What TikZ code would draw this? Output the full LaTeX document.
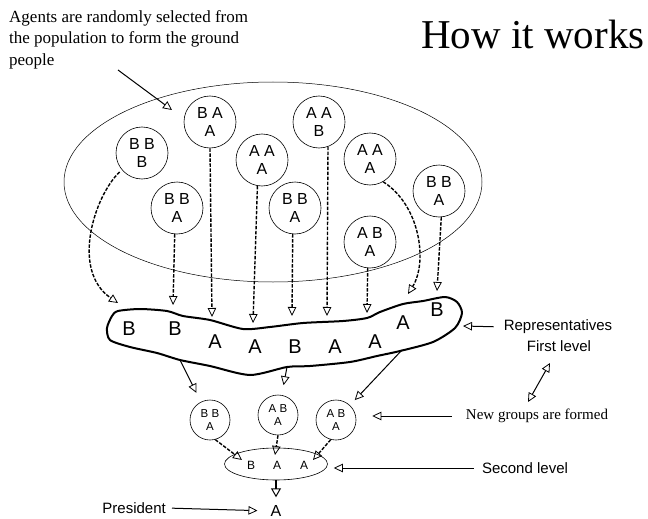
\documentclass[tikz,border=0pt]{standalone}
\usepackage{fontspec}
\setmainfont{Liberation Serif}
\setsansfont{Liberation Sans}
\usetikzlibrary{arrows.meta,shapes.geometric}
\begin{document}
\begin{tikzpicture}[x=1pt,y=-1pt,
  ot/.tip={Triangle[open,length=9pt,width=8.5pt,line width=0.8pt]},
  agent/.style={draw, circle, line width=0.6pt, minimum size=52pt, inner sep=0pt, align=center, font=\sffamily\fontsize{16}{18.5}\selectfont},
  grpc/.style={draw, circle, line width=0.6pt, minimum size=40pt, inner sep=0pt, align=center, font=\sffamily\fontsize{11.5}{13.5}\selectfont},
  dasharr/.style={line width=1.4pt, dash pattern=on 3.5pt off 1.5pt, -{ot}},
  solarr/.style={line width=1pt, -{ot}},
  repl/.style={font=\sffamily\fontsize{20}{20}\selectfont, inner sep=0pt},
  lvl2/.style={font=\sffamily\fontsize{12}{12}\selectfont, inner sep=0pt},
  lbl/.style={font=\sffamily\fontsize{15}{17}\selectfont, inner sep=0pt},
  serifl/.style={font=\fontsize{15}{17}\selectfont, inner sep=0pt}
]
\useasboundingbox (0,0) rectangle (648,519);

% title and intro text
\node[font=\fontsize{41}{41}\selectfont, inner sep=0pt, anchor=base] (title) at (533,49) {How it works};
\node[font=\fontsize{17}{21.5}\selectfont, inner sep=0pt, anchor=north west, align=left] (intro) at (9,10)
  {Agents are randomly selected from\\the population to form the ground\\people};
\coordinate (a0) at (118,70);
\coordinate (a1) at (172,110);
\draw[solarr] (a0) -- (a1);

% population
\node[draw, ellipse, line width=0.5pt, minimum width=418pt, minimum height=200pt, inner sep=0pt] (pop) at (273,182) {};

\node[agent] (c1) at (142,153) {B B\\B};
\node[agent] (c2) at (210,122) {B A\\A};
\node[agent] (c3) at (177,208) {B B\\A};
\node[agent] (c4) at (262,160) {A A\\A};
\node[agent] (c5) at (295,208) {B B\\A};
\node[agent] (c6) at (319,122) {A A\\B};
\node[agent] (c7) at (370,159) {A A\\A};
\node[agent] (c8) at (370,242) {A B\\A};
\node[agent] (c9) at (439,191) {B B\\A};

% representatives blob
\draw[line width=2pt, line join=round] plot[smooth cycle, tension=0.45] coordinates {
  (118,311) (140,309) (167,311) (183,316) (210,320) (243,329) (270,327) (303,323)
  (343,321) (367,318) (380,312) (403,304) (423,301) (445,297) (457,302) (462,313)
  (455,328) (433,342) (400,351) (377,356) (350,362) (310,366) (287,367) (250,375)
  (210,366) (180,360) (157,353) (130,347) (110,340) (107,328) (112,316)};

\node[repl] (r1) at (129,329) {B};
\node[repl] (r2) at (175,329) {B};
\node[repl] (r3) at (215,342) {A};
\node[repl] (r4) at (255,347) {A};
\node[repl] (r5) at (295,347) {B};
\node[repl] (r6) at (335,347) {A};
\node[repl] (r7) at (375,342) {A};
\node[repl] (r8) at (403,323) {A};
\node[repl] (r9) at (437,310) {B};

% arrow targets on the blob
\coordinate (t1) at (118,303);
\coordinate (t2) at (173,305);
\coordinate (t3) at (212,317);
\coordinate (t4) at (253,323);
\coordinate (t5) at (292,316);
\coordinate (t6) at (327,316);
\coordinate (t7) at (367,313);
\coordinate (t8) at (408,294);
\coordinate (t9) at (437,291);

\draw[dasharr, shorten <=3pt] (c1.-140) .. controls (95,195) and (70,270) .. (t1);
\draw[dasharr] (c3.-95) -- (t2);
\draw[dasharr] (c2.south) -- (t3);
\draw[dasharr] (c4.-100) -- (t4);
\draw[dasharr] (c5.-95) -- (t5);
\draw[dasharr] (c6.-70) -- (t6);
\draw[dasharr] (c8.-95) -- (t7);
\draw[dasharr] (c7.-60) .. controls (420,205) and (428,262) .. (t8);
\draw[dasharr] (c9.-85) -- (t9);

% new groups
\node[grpc] (g1) at (210,420) {B B\\A};
\node[grpc] (g2) at (278,415) {A B\\A};
\node[grpc] (g3) at (336,420) {A B\\A};

\coordinate (b1) at (180,360);
\coordinate (b2) at (287,367);
\coordinate (b3) at (402,350);
\draw[solarr, shorten >=10pt] (b1) -- (g1);
\draw[solarr, shorten >=10pt] (b2) -- (g2);
\draw[solarr, shorten >=7pt] (b3) -- (g3);

% second level
\node[draw, ellipse, line width=0.6pt, minimum width=103pt, minimum height=32pt, inner sep=0pt] (lev2) at (276,464) {};
\node[lvl2] (l1) at (251,465) {B};
\node[lvl2] (l2) at (277,465) {A};
\node[lvl2] (l3) at (304,465) {A};

\coordinate (e1) at (242,460);
\coordinate (e2) at (275,455);
\coordinate (e3) at (313,460);
\draw[dasharr] (g1.-75) -- (e1);
\draw[dasharr] (g2.south) -- (e2);
\draw[dasharr] (g3.-105) -- (e3);

% president
\node[font=\sffamily\fontsize{16}{16}\selectfont, inner sep=0pt] (presA) at (276,511) {A};
\draw[line width=2.4pt, -{Triangle[open,length=9pt,width=10pt,line width=1pt]}, shorten >=8pt] (lev2.south) -- (presA);
\node[lbl, anchor=east] (pres) at (166,508) {President};
\draw[solarr, shorten <=6pt, shorten >=13pt] (pres.east) -- (presA.west);

% right labels
\node[lbl] (rep1) at (558,327) {Representatives};
\node[lbl] (rep2) at (559,346) {First level};
\coordinate (bR) at (463,326);
\draw[solarr, shorten <=10pt] (rep1.west) -- (bR);

\node[serifl] (grp) at (537,416) {New groups are formed};
\draw[solarr, shorten <=14pt, shorten >=16pt] (grp.west) -- (grp.west -| g3.east);

\coordinate (d1) at (528,402);
\coordinate (d2) at (550,363);
\draw[line width=1pt, {ot}-{ot}] (d1) -- (d2);

\node[lbl] (sec) at (525,468) {Second level};
\draw[solarr, shorten <=8pt, shorten >=6pt] (sec.west) -- (sec.west -| lev2.east);
\end{tikzpicture}
\end{document}
